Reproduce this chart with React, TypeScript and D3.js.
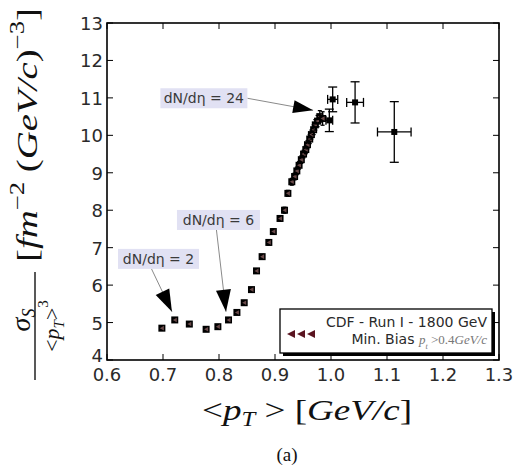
import React, { useEffect } from "react";
import * as d3 from "d3";

// Mean transverse momentum <pT> (GeV/c)
const ptValues = [
  0.698, 0.721, 0.747, 0.777, 0.798, 0.817, 0.832, 0.845, 0.858, 0.867, 0.877,
  0.889, 0.897, 0.909, 0.917, 0.923, 0.93, 0.935, 0.939, 0.943, 0.947, 0.951,
  0.955, 0.958, 0.962, 0.965, 0.969, 0.972, 0.976, 0.98, 0.985, 0.997, 1.003,
  1.043, 1.113,
];
// sigma_S / <pT>^3 in fm^-2 (GeV/c)^-3
const sigmaValues = [
  4.85, 5.07, 4.96, 4.82, 4.89, 5.07, 5.27, 5.53, 5.88, 6.38, 6.76, 7.14, 7.43,
  7.78, 8.0, 8.45, 8.76, 8.9, 9.05, 9.2, 9.35, 9.5, 9.62, 9.75, 9.9, 10.02,
  10.15, 10.28, 10.38, 10.5, 10.45, 10.4, 10.96, 10.88, 10.09,
];
// Uncertainties on each point
const ptErrors = [
  0.002, 0.002, 0.002, 0.002, 0.002, 0.002, 0.002, 0.002, 0.002, 0.002, 0.002,
  0.002, 0.002, 0.002, 0.002, 0.002, 0.002, 0.002, 0.002, 0.002, 0.002, 0.002,
  0.002, 0.003, 0.003, 0.003, 0.003, 0.003, 0.003, 0.004, 0.005, 0.006, 0.009,
  0.015, 0.03,
];
const sigmaErrors = [
  0.05, 0.05, 0.05, 0.05, 0.05, 0.05, 0.05, 0.05, 0.06, 0.06, 0.06, 0.07, 0.07,
  0.07, 0.08, 0.08, 0.09, 0.09, 0.1, 0.1, 0.1, 0.1, 0.11, 0.11, 0.12, 0.12,
  0.13, 0.14, 0.15, 0.16, 0.18, 0.3, 0.33, 0.55, 0.81,
];

const xTicks = [0.6, 0.7, 0.8, 0.9, 1.0, 1.1, 1.2, 1.3];
const yTicks = [4, 5, 6, 7, 8, 9, 10, 11, 12, 13];

// Multiplicity annotations: label, label centre and arrow tip (data units)
const annotationLabels = ["dN/dη = 24", "dN/dη = 6", "dN/dη = 2"];
const annotationLabelX = [0.773, 0.799, 0.692];
const annotationLabelY = [10.99, 7.74, 6.7];
const annotationTipX = [0.968, 0.8125, 0.716];
const annotationTipY = [10.67, 5.29, 5.29];

const legendLines = ["CDF - Run I - 1800 GeV", "Min. Bias"];

const W = 515;
const H = 470;
const margin = { left: 107, right: 16, top: 23, bottom: 110 };

export default function App() {
  useEffect(() => {
    document.body.style.margin = "0";
  }, []);

  const x = d3.scaleLinear().domain([0.6, 1.3]).range([margin.left, W - margin.right]);
  const y = d3.scaleLinear().domain([4, 13]).range([H - margin.bottom, margin.top]);
  const [x0, x1] = x.range();
  const [y0, y1] = y.range();

  const tickFont = { fontFamily: "DejaVu Sans", fontSize: 18, fill: "#2a2a2a" };
  const serif = "Liberation Serif";

  const arrowHead = (sx: number, sy: number, tx: number, ty: number, len: number, half: number) => {
    const a = Math.atan2(ty - sy, tx - sx);
    const bx = tx - len * Math.cos(a);
    const by = ty - len * Math.sin(a);
    const px = -Math.sin(a) * half;
    const py = Math.cos(a) * half;
    return `M${tx},${ty}L${bx + px},${by + py}L${bx - px},${by - py}Z`;
  };

  const boxW = [87, 83, 81];

  return (
    <svg width={W} height={H} style={{ display: "block", background: "#fff" }}>
      {/* annotation arrows and labels */}
      {annotationLabels.map((lab, i) => {
        const cx = x(annotationLabelX[i]);
        const cy = y(annotationLabelY[i]);
        const tx = x(annotationTipX[i]);
        const ty = y(annotationTipY[i]);
        // arrow leaves from the box edge nearest the tip
        const sx = i === 0 ? cx + boxW[i] / 2 : cx - 2 + (i === 2 ? -5 : 0);
        const sy = i === 0 ? cy : cy + 10;
        const len = i === 0 ? 20 : 22;
        const half = i === 0 ? 6.5 : 7.5;
        return (
          <g key={lab}>
            <line x1={sx} y1={sy} x2={tx} y2={ty} stroke="#8a8a8a" strokeWidth={1} />
            <path d={arrowHead(sx, sy, tx, ty, len, half)} fill="#000" />
            <rect x={cx - boxW[i] / 2} y={cy - 10} width={boxW[i]} height={20} fill="#e1e1f3" />
            <text x={cx} y={cy + 5} textAnchor="middle" fontFamily="DejaVu Sans" fontSize={14} fill="#3a3a3a">
              {lab}
            </text>
          </g>
        );
      })}

      {/* data points with error bars */}
      {ptValues.map((p, i) => {
        const px = x(p);
        const py = y(sigmaValues[i]);
        const ex = x(p + ptErrors[i]) - px;
        const ey = py - y(sigmaValues[i] + sigmaErrors[i]);
        const big = i >= ptValues.length - 4;
        const cap = big ? 4.5 : 2;
        return (
          <g key={i} stroke="#000" strokeWidth={1.3}>
            <line x1={px - ex} x2={px + ex} y1={py} y2={py} />
            <line x1={px} x2={px} y1={py - ey} y2={py + ey} />
            <line x1={px - cap} x2={px + cap} y1={py - ey} y2={py - ey} />
            <line x1={px - cap} x2={px + cap} y1={py + ey} y2={py + ey} />
            {big && (
              <>
                <line x1={px - ex} x2={px - ex} y1={py - cap} y2={py + cap} />
                <line x1={px + ex} x2={px + ex} y1={py - cap} y2={py + cap} />
              </>
            )}
            {big ? (
              <rect x={px - 3} y={py - 3} width={6} height={6} fill="#000" stroke="none" />
            ) : (
              <>
                <rect x={px - 3.5} y={py - 3.5} width={7} height={7} fill="#000" stroke="none" />
                <path d={`M${px - 2},${py}L${px + 2},${py - 2.3}L${px + 2},${py + 2.3}Z`} fill="#6a4a4a" stroke="none" />
              </>
            )}
          </g>
        );
      })}

      {/* axes frame */}
      <rect x={x0} y={y1} width={x1 - x0} height={y0 - y1} fill="none" stroke="#000" strokeWidth={1.6} />
      {xTicks.map((t) => (
        <g key={"x" + t}>
          <line x1={x(t)} x2={x(t)} y1={y0} y2={y0 - 6} stroke="#000" />
          <line x1={x(t)} x2={x(t)} y1={y1} y2={y1 + 6} stroke="#000" />
          <text x={x(t)} y={y0 + 21} textAnchor="middle" {...tickFont}>
            {t.toFixed(1)}
          </text>
        </g>
      ))}
      {yTicks.map((t, k) => (
        <g key={"y" + t}>
          <line x1={x0} x2={x0 + 6} y1={y(t)} y2={y(t)} stroke="#000" />
          <line x1={x1} x2={x1 - 6} y1={y(t)} y2={y(t)} stroke="#000" />
          {/* the lowest label sits a little higher to clear the x tick labels */}
          <text x={x0 - 4} y={y(t) + (k === 0 ? 2 : 7)} textAnchor="end" {...tickFont}>
            {t}
          </text>
        </g>
      ))}

      {/* legend */}
      <g>
        <rect x={283} y={312} width={212} height={44} fill="#000" />
        <rect x={280} y={309} width={212} height={44} fill="#fff" stroke="#000" strokeWidth={1.3} />
        {[0, 1, 2].map((k) => {
          const mx = 291 + k * 10;
          const my = 334;
          return (
            <path key={k} d={`M${mx - 4},${my}L${mx + 4},${my - 4}L${mx + 4},${my + 4}Z`} fill="#5a1420" />
          );
        })}
        <text x={487} y={327} textAnchor="end" fontFamily="DejaVu Sans" fontSize={14} fill="#2a2a2a">
          {legendLines[0]}
        </text>
        <text x={487} y={344} textAnchor="end" fontFamily="DejaVu Sans" fontSize={14} fill="#2a2a2a">
          {legendLines[1]}{" "}
          <tspan fontFamily={serif} fontStyle="italic" fontSize={13} fill="#777">
            p
            <tspan baselineShift="sub" fontSize={8}>t</tspan>
          </tspan>
          <tspan fontFamily={serif} fontSize={13} fill="#777"> &gt;0.4</tspan>
          <tspan fontFamily={serif} fontStyle="italic" fontSize={13} fill="#777">GeV/c</tspan>
        </text>
      </g>

      {/* x axis label */}
      <text x={307} y={420} textAnchor="middle" fontFamily={serif} fontSize={30} fill="#111" textLength={210} lengthAdjust="spacingAndGlyphs">
        &lt;
        <tspan fontStyle="italic">p</tspan>
        <tspan fontStyle="italic" fontSize={20} dy={6}>T</tspan>
        <tspan dy={-6}> &gt; [</tspan>
        <tspan fontStyle="italic">GeV/c</tspan>
        ]
      </text>

      {/* y axis label: fraction and units */}
      <g>
        <line x1={35} x2={35} y1={272} y2={380} stroke="#222" strokeWidth={1.5} />
        <text transform="translate(30,320) rotate(-90)" textAnchor="middle" fontFamily={serif} fontSize={28} fill="#111">
          <tspan fontStyle="italic">σ</tspan>
          <tspan fontStyle="italic" fontSize={18} dy={5}>S</tspan>
        </text>
        <text transform="translate(59,326) rotate(-90)" textAnchor="middle" fontFamily={serif} fontSize={22} fill="#111">
          &lt;
          <tspan fontStyle="italic">p</tspan>
          <tspan fontStyle="italic" fontSize={15} dy={5}>T</tspan>
          <tspan dy={-5}>&gt;</tspan>
          <tspan fontSize={15} dy={-11}>3</tspan>
        </text>
        <text transform="translate(37,262) rotate(-90)" textAnchor="start" fontFamily={serif} fontSize={29} fill="#111" textLength={254} lengthAdjust="spacingAndGlyphs">
          [<tspan fontStyle="italic">fm</tspan>
          <tspan fontSize={20} dy={-13}>−2</tspan>
          <tspan dy={13}> (</tspan>
          <tspan fontStyle="italic">GeV/c</tspan>
          )
          <tspan fontSize={20} dy={-13}>−3</tspan>
          <tspan dy={13}>]</tspan>
        </text>
      </g>

      {/* panel caption */}
      <text x={287} y={461} textAnchor="middle" fontFamily={serif} fontSize={19} fill="#111">
        (a)
      </text>
    </svg>
  );
}
